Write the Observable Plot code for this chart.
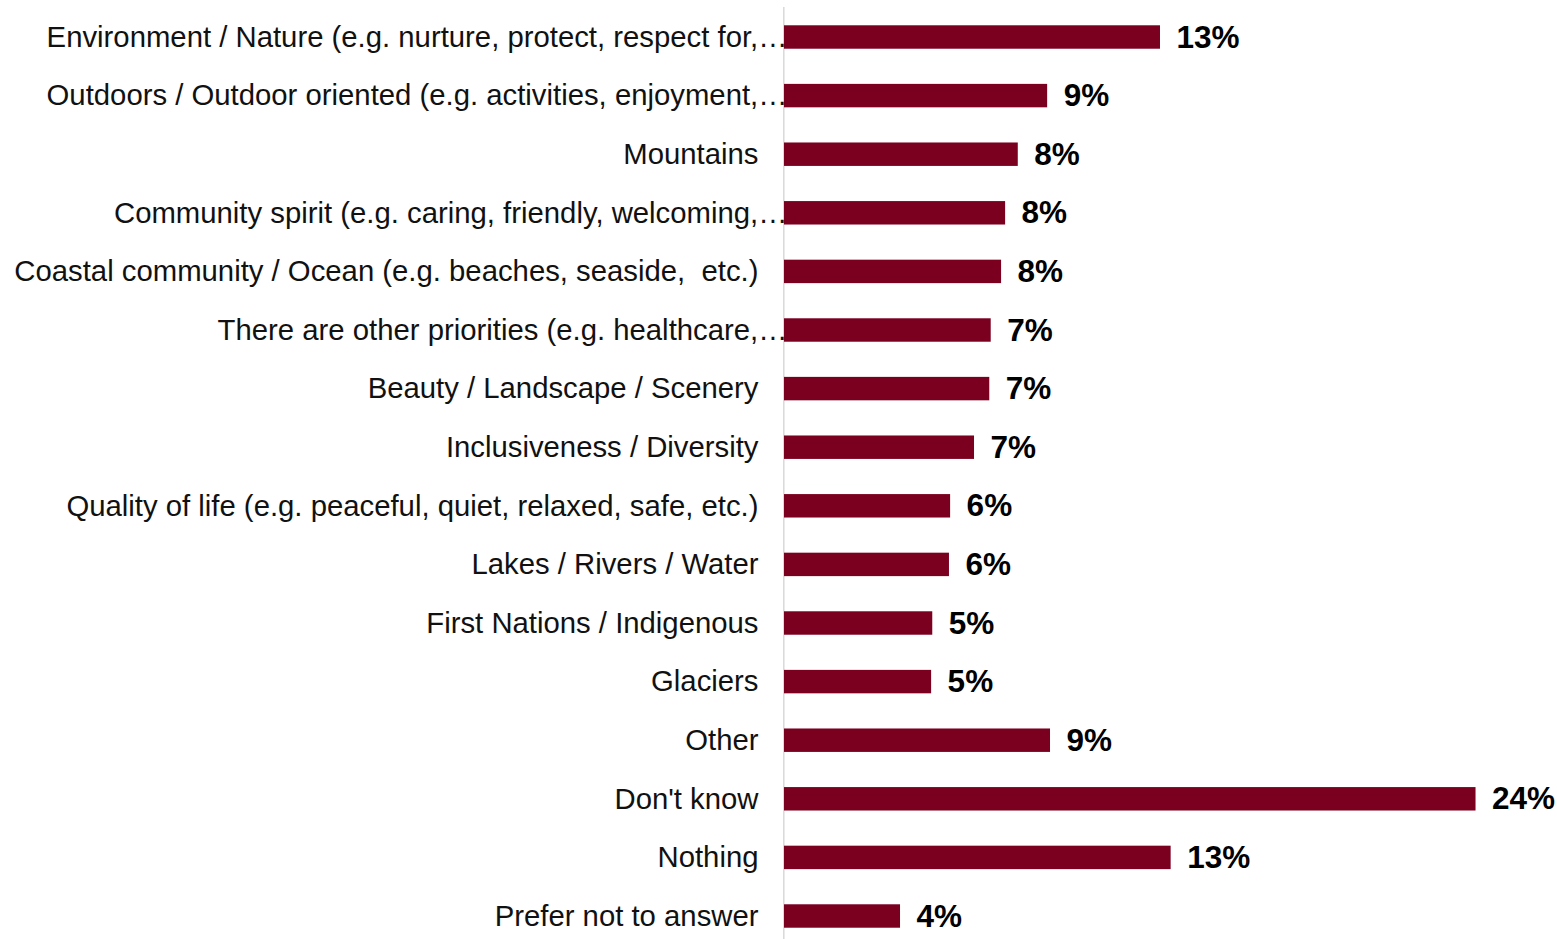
<!DOCTYPE html>
<html>
<head>
<meta charset="utf-8">
<script src="https://cdn.jsdelivr.net/npm/d3@7"></script>
<script src="https://cdn.jsdelivr.net/npm/@observablehq/plot@0.6"></script>
<style>
  html, body { margin: 0; padding: 0; background: #fff; }
  #chart svg { display: block; }
</style>
</head>
<body>
<div id="chart"></div>
<script>
const categories = [
  "Environment / Nature (e.g. nurture, protect, respect for,…",
  "Outdoors / Outdoor oriented (e.g. activities, enjoyment,…",
  "Mountains",
  "Community spirit (e.g. caring, friendly, welcoming,…",
  "Coastal community / Ocean (e.g. beaches, seaside,  etc.)",
  "There are other priorities (e.g. healthcare,…",
  "Beauty / Landscape / Scenery",
  "Inclusiveness / Diversity",
  "Quality of life (e.g. peaceful, quiet, relaxed, safe, etc.)",
  "Lakes / Rivers / Water",
  "First Nations / Indigenous",
  "Glaciers",
  "Other",
  "Don't know",
  "Nothing",
  "Prefer not to answer"
];
const values = [13.06, 9.14, 8.12, 7.68, 7.54, 7.18, 7.13, 6.60, 5.77, 5.73, 5.15, 5.11, 9.24, 24.02, 13.43, 4.03];
const valueLabels = ["13%", "9%", "8%", "8%", "8%", "7%", "7%", "7%", "6%", "6%", "5%", "5%", "9%", "24%", "13%", "4%"];

const data = categories.map((c, i) => ({cat: c, value: values[i], label: valueLabels[i], truncated: c.endsWith("…")}));

const chart = Plot.plot({
  width: 1557,
  height: 939,
  marginLeft: 784,
  marginRight: 0,
  marginTop: 7,
  marginBottom: 0,
  style: {fontFamily: "'Liberation Sans', Arial, sans-serif", background: "#fff"},
  x: {domain: [0, 26.85], range: [784, 1557], axis: null},
  y: {domain: categories, range: [7.7, 945.3], paddingInner: 0.6, paddingOuter: 0.3, round: false, axis: null},
  marks: [
    Plot.ruleX([0], {stroke: "#d9d9d9", strokeWidth: 1.5, dx: -0.7}),
    Plot.barX(data, {x: "value", y: "cat", fill: "#7b0020"}),
    Plot.text(data.filter(d => !d.truncated), {x: 0, y: "cat", text: "cat", textAnchor: "end", dx: -26, fontSize: 29.3, fill: "#111"}),
    Plot.text(data.filter(d => d.truncated), {x: 0, y: "cat", text: "cat", textAnchor: "end", dx: 3, fontSize: 29.3, fill: "#111"}),
    Plot.text(data, {x: "value", y: "cat", text: "label", textAnchor: "start", dx: 16, fontSize: 31.5, fontWeight: "bold", fill: "#000"})
  ]
});
document.getElementById("chart").appendChild(chart);
</script>
</body>
</html>
